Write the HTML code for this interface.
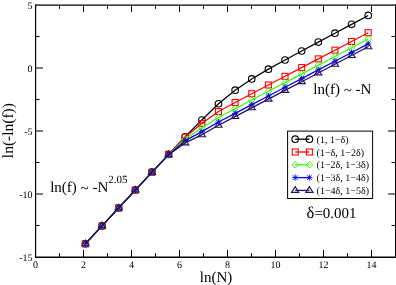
<!DOCTYPE html>
<html><head><meta charset="utf-8"><style>
html,body{margin:0;padding:0;background:#fff;width:396px;height:285px;overflow:hidden;}
svg{display:block;font-family:"Liberation Serif",serif;will-change:transform;text-rendering:geometricPrecision;}
</style></head><body>
<svg width="396" height="285" viewBox="0 0 396 285"><g stroke="#000" fill="none">
<path d="M35 5H396" stroke-width="1.25"/>
<path d="M35.6 4.4V257.6" stroke-width="1.2"/>
<path d="M395.5 4.4V257.6" stroke-width="1"/>
<path d="M35 257.2H396" stroke-width="1.4"/>
<path d="M59.50 257V253.20M59.50 5V8.80" stroke-width="1"/>
<path d="M83.50 257V250.00M83.50 5V12.00" stroke-width="1"/>
<path d="M107.50 257V253.20M107.50 5V8.80" stroke-width="1"/>
<path d="M131.50 257V250.00M131.50 5V12.00" stroke-width="1"/>
<path d="M155.50 257V253.20M155.50 5V8.80" stroke-width="1"/>
<path d="M179.50 257V250.00M179.50 5V12.00" stroke-width="1"/>
<path d="M203.50 257V253.20M203.50 5V8.80" stroke-width="1"/>
<path d="M227.50 257V250.00M227.50 5V12.00" stroke-width="1"/>
<path d="M251.50 257V253.20M251.50 5V8.80" stroke-width="1"/>
<path d="M275.50 257V250.00M275.50 5V12.00" stroke-width="1"/>
<path d="M299.50 257V253.20M299.50 5V8.80" stroke-width="1"/>
<path d="M323.50 257V250.00M323.50 5V12.00" stroke-width="1"/>
<path d="M347.50 257V253.20M347.50 5V8.80" stroke-width="1"/>
<path d="M371.50 257V250.00M371.50 5V12.00" stroke-width="1"/>
<path d="M35.5 36.50H39.50M395.5 36.50H391.50" stroke-width="1.1"/>
<path d="M35.5 68.00H43.00M395.5 68.00H388.00" stroke-width="1.1"/>
<path d="M35.5 99.50H39.50M395.5 99.50H391.50" stroke-width="1.1"/>
<path d="M35.5 131.00H43.00M395.5 131.00H388.00" stroke-width="1.1"/>
<path d="M35.5 162.50H39.50M395.5 162.50H391.50" stroke-width="1.1"/>
<path d="M35.5 194.00H43.00M395.5 194.00H388.00" stroke-width="1.1"/>
<path d="M35.5 225.50H39.50M395.5 225.50H391.50" stroke-width="1.1"/>
</g>
<polyline points="85.41,243.79 102.04,225.89 118.68,207.99 135.31,190.09 151.95,172.22 168.58,154.39 185.22,136.75 201.86,120.01 218.49,103.76 235.13,90.17 251.76,78.95 268.40,69.16 285.03,59.98 301.67,51.01 318.30,42.10 334.94,33.22 351.58,24.34 368.21,15.46" fill="none" stroke="#000000" stroke-width="1.25" stroke-linejoin="round"/>
<circle cx="85.41" cy="243.79" r="3.3" fill="none" stroke="#000000" stroke-width="1.1"/>
<circle cx="102.04" cy="225.89" r="3.3" fill="none" stroke="#000000" stroke-width="1.1"/>
<circle cx="118.68" cy="207.99" r="3.3" fill="none" stroke="#000000" stroke-width="1.1"/>
<circle cx="135.31" cy="190.09" r="3.3" fill="none" stroke="#000000" stroke-width="1.1"/>
<circle cx="151.95" cy="172.22" r="3.3" fill="none" stroke="#000000" stroke-width="1.1"/>
<circle cx="168.58" cy="154.39" r="3.3" fill="none" stroke="#000000" stroke-width="1.1"/>
<circle cx="185.22" cy="136.75" r="3.3" fill="none" stroke="#000000" stroke-width="1.1"/>
<circle cx="201.86" cy="120.01" r="3.3" fill="none" stroke="#000000" stroke-width="1.1"/>
<circle cx="218.49" cy="103.76" r="3.3" fill="none" stroke="#000000" stroke-width="1.1"/>
<circle cx="235.13" cy="90.17" r="3.3" fill="none" stroke="#000000" stroke-width="1.1"/>
<circle cx="251.76" cy="78.95" r="3.3" fill="none" stroke="#000000" stroke-width="1.1"/>
<circle cx="268.40" cy="69.16" r="3.3" fill="none" stroke="#000000" stroke-width="1.1"/>
<circle cx="285.03" cy="59.98" r="3.3" fill="none" stroke="#000000" stroke-width="1.1"/>
<circle cx="301.67" cy="51.01" r="3.3" fill="none" stroke="#000000" stroke-width="1.1"/>
<circle cx="318.30" cy="42.10" r="3.3" fill="none" stroke="#000000" stroke-width="1.1"/>
<circle cx="334.94" cy="33.22" r="3.3" fill="none" stroke="#000000" stroke-width="1.1"/>
<circle cx="351.58" cy="24.34" r="3.3" fill="none" stroke="#000000" stroke-width="1.1"/>
<circle cx="368.21" cy="15.46" r="3.3" fill="none" stroke="#000000" stroke-width="1.1"/>
<polyline points="85.41,243.79 102.04,225.89 118.68,207.99 135.31,190.08 151.95,172.19 168.58,154.39 185.22,137.14 201.86,123.59 218.49,111.57 235.13,102.49 251.76,93.73 268.40,85.02 285.03,76.31 301.67,67.60 318.30,58.89 334.94,50.18 351.58,41.48 368.21,32.77" fill="none" stroke="#ff0000" stroke-width="1.25" stroke-linejoin="round"/>
<rect x="82.41" y="240.79" width="6.00" height="6.00" fill="none" stroke="#ff0000" stroke-width="1.1"/>
<rect x="99.04" y="222.89" width="6.00" height="6.00" fill="none" stroke="#ff0000" stroke-width="1.1"/>
<rect x="115.68" y="204.99" width="6.00" height="6.00" fill="none" stroke="#ff0000" stroke-width="1.1"/>
<rect x="132.31" y="187.08" width="6.00" height="6.00" fill="none" stroke="#ff0000" stroke-width="1.1"/>
<rect x="148.95" y="169.19" width="6.00" height="6.00" fill="none" stroke="#ff0000" stroke-width="1.1"/>
<rect x="165.58" y="151.39" width="6.00" height="6.00" fill="none" stroke="#ff0000" stroke-width="1.1"/>
<rect x="182.22" y="134.14" width="6.00" height="6.00" fill="none" stroke="#ff0000" stroke-width="1.1"/>
<rect x="198.86" y="120.59" width="6.00" height="6.00" fill="none" stroke="#ff0000" stroke-width="1.1"/>
<rect x="215.49" y="108.57" width="6.00" height="6.00" fill="none" stroke="#ff0000" stroke-width="1.1"/>
<rect x="232.13" y="99.49" width="6.00" height="6.00" fill="none" stroke="#ff0000" stroke-width="1.1"/>
<rect x="248.76" y="90.73" width="6.00" height="6.00" fill="none" stroke="#ff0000" stroke-width="1.1"/>
<rect x="265.40" y="82.02" width="6.00" height="6.00" fill="none" stroke="#ff0000" stroke-width="1.1"/>
<rect x="282.03" y="73.31" width="6.00" height="6.00" fill="none" stroke="#ff0000" stroke-width="1.1"/>
<rect x="298.67" y="64.60" width="6.00" height="6.00" fill="none" stroke="#ff0000" stroke-width="1.1"/>
<rect x="315.30" y="55.89" width="6.00" height="6.00" fill="none" stroke="#ff0000" stroke-width="1.1"/>
<rect x="331.94" y="47.18" width="6.00" height="6.00" fill="none" stroke="#ff0000" stroke-width="1.1"/>
<rect x="348.58" y="38.48" width="6.00" height="6.00" fill="none" stroke="#ff0000" stroke-width="1.1"/>
<rect x="365.21" y="29.77" width="6.00" height="6.00" fill="none" stroke="#ff0000" stroke-width="1.1"/>
<polyline points="85.41,243.79 102.04,225.89 118.68,207.99 135.31,190.09 151.95,172.26 168.58,154.77 185.22,139.00 201.86,127.81 218.49,117.54 235.13,108.71 251.76,99.99 268.40,91.29 285.03,82.58 301.67,73.88 318.30,65.18 334.94,56.47 351.58,47.77 368.21,39.07" fill="none" stroke="#33ff00" stroke-width="1.25" stroke-linejoin="round"/>
<path d="M82.16 243.79L85.41 240.54L88.66 243.79L85.41 247.04Z" fill="none" stroke="#33ff00" stroke-width="1.0"/>
<path d="M98.79 225.89L102.04 222.64L105.29 225.89L102.04 229.14Z" fill="none" stroke="#33ff00" stroke-width="1.0"/>
<path d="M115.43 207.99L118.68 204.74L121.93 207.99L118.68 211.24Z" fill="none" stroke="#33ff00" stroke-width="1.0"/>
<path d="M132.06 190.09L135.31 186.84L138.56 190.09L135.31 193.34Z" fill="none" stroke="#33ff00" stroke-width="1.0"/>
<path d="M148.70 172.26L151.95 169.01L155.20 172.26L151.95 175.51Z" fill="none" stroke="#33ff00" stroke-width="1.0"/>
<path d="M165.33 154.77L168.58 151.52L171.83 154.77L168.58 158.02Z" fill="none" stroke="#33ff00" stroke-width="1.0"/>
<path d="M181.97 139.00L185.22 135.75L188.47 139.00L185.22 142.25Z" fill="none" stroke="#33ff00" stroke-width="1.0"/>
<path d="M198.61 127.81L201.86 124.56L205.11 127.81L201.86 131.06Z" fill="none" stroke="#33ff00" stroke-width="1.0"/>
<path d="M215.24 117.54L218.49 114.29L221.74 117.54L218.49 120.79Z" fill="none" stroke="#33ff00" stroke-width="1.0"/>
<path d="M231.88 108.71L235.13 105.46L238.38 108.71L235.13 111.96Z" fill="none" stroke="#33ff00" stroke-width="1.0"/>
<path d="M248.51 99.99L251.76 96.74L255.01 99.99L251.76 103.24Z" fill="none" stroke="#33ff00" stroke-width="1.0"/>
<path d="M265.15 91.29L268.40 88.04L271.65 91.29L268.40 94.54Z" fill="none" stroke="#33ff00" stroke-width="1.0"/>
<path d="M281.78 82.58L285.03 79.33L288.28 82.58L285.03 85.83Z" fill="none" stroke="#33ff00" stroke-width="1.0"/>
<path d="M298.42 73.88L301.67 70.63L304.92 73.88L301.67 77.13Z" fill="none" stroke="#33ff00" stroke-width="1.0"/>
<path d="M315.05 65.18L318.30 61.93L321.55 65.18L318.30 68.43Z" fill="none" stroke="#33ff00" stroke-width="1.0"/>
<path d="M331.69 56.47L334.94 53.22L338.19 56.47L334.94 59.72Z" fill="none" stroke="#33ff00" stroke-width="1.0"/>
<path d="M348.33 47.77L351.58 44.52L354.83 47.77L351.58 51.02Z" fill="none" stroke="#33ff00" stroke-width="1.0"/>
<path d="M364.96 39.07L368.21 35.82L371.46 39.07L368.21 42.32Z" fill="none" stroke="#33ff00" stroke-width="1.0"/>
<polyline points="85.41,243.79 102.04,225.89 118.68,207.99 135.31,190.08 151.95,172.22 168.58,154.81 185.22,140.63 201.86,131.64 218.49,122.06 235.13,113.36 251.76,104.67 268.40,95.98 285.03,87.29 301.67,78.60 318.30,69.91 334.94,61.21 351.58,52.52 368.21,43.83" fill="none" stroke="#0000ff" stroke-width="1.25" stroke-linejoin="round"/>
<path d="M82.31 243.79H88.51M85.41 240.69V246.89M83.11 241.50L87.70 246.08M83.11 246.08L87.70 241.50" stroke="#0000ff" stroke-width="0.9"/>
<path d="M98.94 225.89H105.14M102.04 222.79V228.99M99.75 223.60L104.34 228.18M99.75 228.18L104.34 223.60" stroke="#0000ff" stroke-width="0.9"/>
<path d="M115.58 207.99H121.78M118.68 204.89V211.09M116.38 205.70L120.97 210.28M116.38 210.28L120.97 205.70" stroke="#0000ff" stroke-width="0.9"/>
<path d="M132.21 190.08H138.41M135.31 186.98V193.18M133.02 187.79L137.61 192.37M133.02 192.37L137.61 187.79" stroke="#0000ff" stroke-width="0.9"/>
<path d="M148.85 172.22H155.05M151.95 169.12V175.32M149.65 169.93L154.24 174.51M149.65 174.51L154.24 169.93" stroke="#0000ff" stroke-width="0.9"/>
<path d="M165.48 154.81H171.68M168.58 151.71V157.91M166.29 152.52L170.88 157.10M166.29 157.10L170.88 152.52" stroke="#0000ff" stroke-width="0.9"/>
<path d="M182.12 140.63H188.32M185.22 137.53V143.73M182.93 138.34L187.51 142.92M182.93 142.92L187.51 138.34" stroke="#0000ff" stroke-width="0.9"/>
<path d="M198.76 131.64H204.96M201.86 128.54V134.74M199.56 129.35L204.15 133.93M199.56 133.93L204.15 129.35" stroke="#0000ff" stroke-width="0.9"/>
<path d="M215.39 122.06H221.59M218.49 118.96V125.16M216.20 119.77L220.78 124.35M216.20 124.35L220.78 119.77" stroke="#0000ff" stroke-width="0.9"/>
<path d="M232.03 113.36H238.23M235.13 110.26V116.46M232.83 111.07L237.42 115.65M232.83 115.65L237.42 111.07" stroke="#0000ff" stroke-width="0.9"/>
<path d="M248.66 104.67H254.86M251.76 101.57V107.77M249.47 102.38L254.06 106.96M249.47 106.96L254.06 102.38" stroke="#0000ff" stroke-width="0.9"/>
<path d="M265.30 95.98H271.50M268.40 92.88V99.08M266.10 93.69L270.69 98.27M266.10 98.27L270.69 93.69" stroke="#0000ff" stroke-width="0.9"/>
<path d="M281.93 87.29H288.13M285.03 84.19V90.39M282.74 85.00L287.33 89.58M282.74 89.58L287.33 85.00" stroke="#0000ff" stroke-width="0.9"/>
<path d="M298.57 78.60H304.77M301.67 75.50V81.70M299.37 76.31L303.96 80.89M299.37 80.89L303.96 76.31" stroke="#0000ff" stroke-width="0.9"/>
<path d="M315.20 69.91H321.40M318.30 66.81V73.01M316.01 67.62L320.60 72.20M316.01 72.20L320.60 67.62" stroke="#0000ff" stroke-width="0.9"/>
<path d="M331.84 61.21H338.04M334.94 58.11V64.31M332.65 58.92L337.23 63.50M332.65 63.50L337.23 58.92" stroke="#0000ff" stroke-width="0.9"/>
<path d="M348.48 52.52H354.68M351.58 49.42V55.62M349.28 50.23L353.87 54.81M349.28 54.81L353.87 50.23" stroke="#0000ff" stroke-width="0.9"/>
<path d="M365.11 43.83H371.31M368.21 40.73V46.93M365.92 41.54L370.50 46.12M365.92 46.12L370.50 41.54" stroke="#0000ff" stroke-width="0.9"/>
<polyline points="85.41,243.79 102.04,225.89 118.68,207.99 135.31,190.08 151.95,172.19 168.58,154.84 185.22,142.88 201.86,134.83 218.49,125.30 235.13,116.58 251.76,107.86 268.40,99.13 285.03,90.41 301.67,81.69 318.30,72.96 334.94,64.24 351.58,55.52 368.21,46.79" fill="none" stroke="#24105c" stroke-width="1.25" stroke-linejoin="round"/>
<path d="M81.81 245.74L85.41 240.04L89.01 245.74Z" fill="none" stroke="#24105c" stroke-width="1.1"/>
<path d="M98.44 227.84L102.04 222.14L105.64 227.84Z" fill="none" stroke="#24105c" stroke-width="1.1"/>
<path d="M115.08 209.94L118.68 204.24L122.28 209.94Z" fill="none" stroke="#24105c" stroke-width="1.1"/>
<path d="M131.71 192.03L135.31 186.33L138.91 192.03Z" fill="none" stroke="#24105c" stroke-width="1.1"/>
<path d="M148.35 174.14L151.95 168.44L155.55 174.14Z" fill="none" stroke="#24105c" stroke-width="1.1"/>
<path d="M164.98 156.79L168.58 151.09L172.18 156.79Z" fill="none" stroke="#24105c" stroke-width="1.1"/>
<path d="M181.62 144.83L185.22 139.13L188.82 144.83Z" fill="none" stroke="#24105c" stroke-width="1.1"/>
<path d="M198.26 136.78L201.86 131.08L205.46 136.78Z" fill="none" stroke="#24105c" stroke-width="1.1"/>
<path d="M214.89 127.25L218.49 121.55L222.09 127.25Z" fill="none" stroke="#24105c" stroke-width="1.1"/>
<path d="M231.53 118.53L235.13 112.83L238.73 118.53Z" fill="none" stroke="#24105c" stroke-width="1.1"/>
<path d="M248.16 109.81L251.76 104.11L255.36 109.81Z" fill="none" stroke="#24105c" stroke-width="1.1"/>
<path d="M264.80 101.08L268.40 95.38L272.00 101.08Z" fill="none" stroke="#24105c" stroke-width="1.1"/>
<path d="M281.43 92.36L285.03 86.66L288.63 92.36Z" fill="none" stroke="#24105c" stroke-width="1.1"/>
<path d="M298.07 83.64L301.67 77.94L305.27 83.64Z" fill="none" stroke="#24105c" stroke-width="1.1"/>
<path d="M314.70 74.91L318.30 69.21L321.90 74.91Z" fill="none" stroke="#24105c" stroke-width="1.1"/>
<path d="M331.34 66.19L334.94 60.49L338.54 66.19Z" fill="none" stroke="#24105c" stroke-width="1.1"/>
<path d="M347.98 57.47L351.58 51.77L355.18 57.47Z" fill="none" stroke="#24105c" stroke-width="1.1"/>
<path d="M364.61 48.74L368.21 43.04L371.81 48.74Z" fill="none" stroke="#24105c" stroke-width="1.1"/>
<g font-family="Liberation Serif" font-size="10" fill="#000">
<text x="35.50" y="267.8" text-anchor="middle">0</text>
<text x="83.50" y="267.8" text-anchor="middle">2</text>
<text x="131.50" y="267.8" text-anchor="middle">4</text>
<text x="179.50" y="267.8" text-anchor="middle">6</text>
<text x="227.50" y="267.8" text-anchor="middle">8</text>
<text x="275.50" y="267.8" text-anchor="middle">10</text>
<text x="323.50" y="267.8" text-anchor="middle">12</text>
<text x="371.50" y="267.8" text-anchor="middle">14</text>
<text x="32.6" y="9.30" text-anchor="end">5</text>
<text x="32.6" y="72.30" text-anchor="end">0</text>
<text x="32.6" y="135.30" text-anchor="end">-5</text>
<text x="32.6" y="198.30" text-anchor="end">-10</text>
<text x="32.6" y="261.30" text-anchor="end">-15</text>
</g>
<g font-family="Liberation Serif" font-size="15" fill="#000">
<text x="216" y="281.7" text-anchor="middle">ln(N)</text>
<text transform="translate(12.7 130.6) rotate(-90)" x="0" y="0" text-anchor="middle" font-size="15.5">ln(-ln(f))</text>
<text x="313.3" y="93.7">ln(f) <tspan dy="1.3">~</tspan><tspan dy="-1.3"> -N</tspan></text>
<text x="50.2" y="191.8">ln(f) <tspan dy="1.3">~</tspan><tspan dy="-1.3"> -N</tspan><tspan font-size="11" dy="-8.9">2.05</tspan></text>
<text x="306.6" y="217.8"><tspan font-size="16.5">δ</tspan>=0.001</text>
</g>
<rect x="287.6" y="131.1" width="85.00" height="67.40" fill="#fff" stroke="#000" stroke-width="1"/>
<path d="M295.2 139.20H309.4" stroke="#000000" stroke-width="1.3"/>
<circle cx="295.20" cy="139.20" r="3.3" fill="none" stroke="#000000" stroke-width="1.1"/>
<circle cx="309.40" cy="139.20" r="3.3" fill="none" stroke="#000000" stroke-width="1.1"/>
<text x="316.6" y="142.80" font-family="Liberation Serif" font-size="10">(1, 1−δ)</text>
<path d="M295.2 152.00H309.4" stroke="#ff0000" stroke-width="1.3"/>
<rect x="292.20" y="149.00" width="6.00" height="6.00" fill="none" stroke="#ff0000" stroke-width="1.1"/>
<rect x="306.40" y="149.00" width="6.00" height="6.00" fill="none" stroke="#ff0000" stroke-width="1.1"/>
<text x="316.6" y="155.60" font-family="Liberation Serif" font-size="10">(1−δ, 1−2δ)</text>
<path d="M295.2 164.80H309.4" stroke="#33ff00" stroke-width="1.3"/>
<path d="M291.95 164.80L295.20 161.55L298.45 164.80L295.20 168.05Z" fill="none" stroke="#33ff00" stroke-width="1.0"/>
<path d="M306.15 164.80L309.40 161.55L312.65 164.80L309.40 168.05Z" fill="none" stroke="#33ff00" stroke-width="1.0"/>
<text x="316.6" y="168.40" font-family="Liberation Serif" font-size="10">(1−2δ, 1−3δ)</text>
<path d="M295.2 177.60H309.4" stroke="#0000ff" stroke-width="1.3"/>
<path d="M292.10 177.60H298.30M295.20 174.50V180.70M292.91 175.31L297.49 179.89M292.91 179.89L297.49 175.31" stroke="#0000ff" stroke-width="0.9"/>
<path d="M306.30 177.60H312.50M309.40 174.50V180.70M307.11 175.31L311.69 179.89M307.11 179.89L311.69 175.31" stroke="#0000ff" stroke-width="0.9"/>
<text x="316.6" y="181.20" font-family="Liberation Serif" font-size="10">(1−3δ, 1−4δ)</text>
<path d="M295.2 190.40H309.4" stroke="#24105c" stroke-width="1.3"/>
<path d="M291.60 192.35L295.20 186.65L298.80 192.35Z" fill="none" stroke="#24105c" stroke-width="1.1"/>
<path d="M305.80 192.35L309.40 186.65L313.00 192.35Z" fill="none" stroke="#24105c" stroke-width="1.1"/>
<text x="316.6" y="194.00" font-family="Liberation Serif" font-size="10">(1−4δ, 1−5δ)</text></svg>
</body></html>
